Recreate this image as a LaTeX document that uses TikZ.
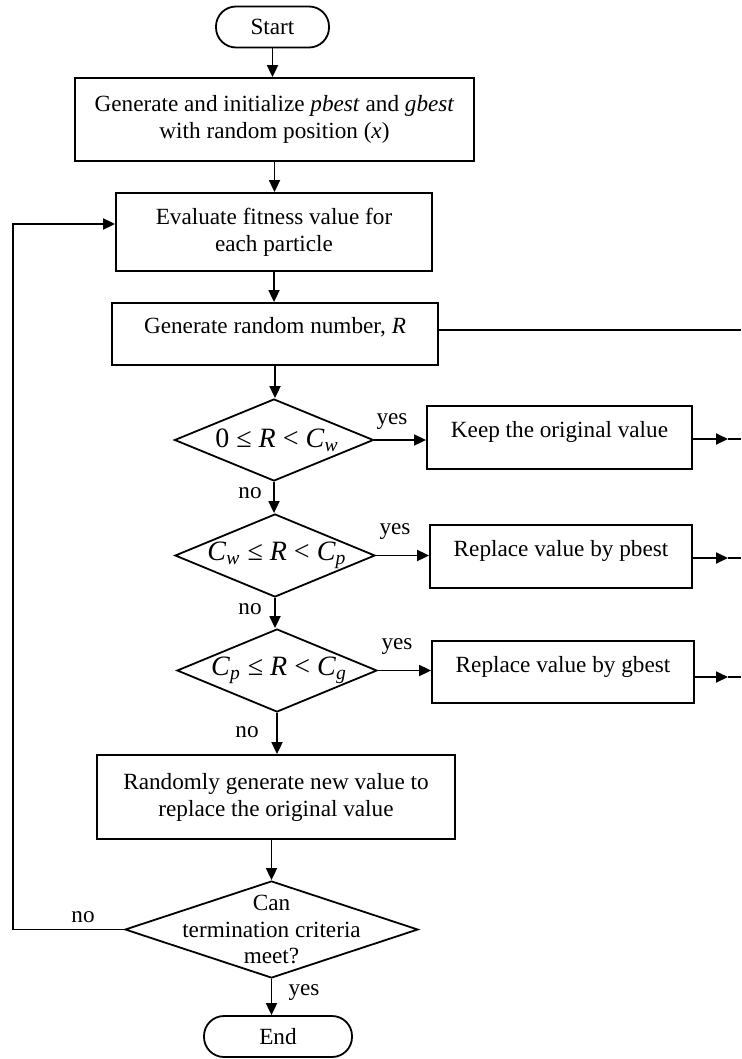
\documentclass[tikz,border=0pt]{standalone}
\usepackage{fontspec}
\setmainfont{Liberation Serif}
\usetikzlibrary{arrows.meta,shapes.geometric}
\begin{document}
\begin{tikzpicture}[x=0.5pt,y=-0.5pt,
  font=\fontsize{11.6}{13.5}\selectfont,
  box/.style={draw, line width=0.9pt, align=center, inner sep=0pt},
  term/.style={draw, line width=0.9pt, rounded corners=10pt, inner sep=0pt},
  dia/.style={draw, diamond, line width=0.9pt, inner sep=0pt},
  arr/.style={line width=0.9pt, -{Triangle[length=6pt,width=5.5pt]}},
  ln/.style={line width=0.9pt},
  lab/.style={inner sep=0pt},
  mth/.style={inner sep=0pt, font=\fontsize{14}{16}\selectfont}]
\useasboundingbox (0,0) rectangle (741,1059);
% nodes
\node[term, minimum width=56.5pt, minimum height=20.5pt] (start) at (272.5,27) {Start};
\node[box, minimum width=199.5pt, minimum height=41.5pt] (b1) at (274.5,119.5) {Generate and initialize \textit{pbest} and \textit{gbest}\\with random position (\textit{x})};
\node[box, minimum width=158pt, minimum height=39pt] (b2) at (274,232) {Evaluate fitness value for\\each particle};
\node[box, minimum width=163pt, minimum height=31pt] (b3) at (275,334) {Generate random number, \textit{R}\rule[-9pt]{0pt}{0pt}};
\node[dia, minimum width=99.5pt, minimum height=41pt] (d1) at (274,440) {};
\node[dia, minimum width=100pt, minimum height=41.5pt] (d2) at (275,555.5) {};
\node[dia, minimum width=100pt, minimum height=41.5pt] (d3) at (277,670.5) {};
\node[mth] (d1t) at (277,440) {0 ≤ \textit{R} < \textit{C}\textsubscript{\textit{w}}};
\node[mth] (d2t) at (277,555.5) {\textit{C}\textsubscript{\textit{w}} ≤ \textit{R} < \textit{C}\textsubscript{\textit{p}}};
\node[mth] (d3t) at (279,670.5) {\textit{C}\textsubscript{\textit{p}} ≤ \textit{R} < \textit{C}\textsubscript{\textit{g}}};
\node[box, minimum width=132.5pt, minimum height=31.5pt] (k) at (559.5,437.5) {Keep the original value\rule[-8pt]{0pt}{0pt}};
\node[box, minimum width=131pt, minimum height=31.5pt] (p) at (561,556.5) {Replace value by pbest\rule[-8pt]{0pt}{0pt}};
\node[box, minimum width=131pt, minimum height=31pt] (g) at (563,672) {Replace value by gbest\rule[-8pt]{0pt}{0pt}};
\node[box, minimum width=179pt, minimum height=42pt] (b4) at (276,797) {Randomly generate new value to\\replace the original value};
\node[dia, minimum width=146.5pt, minimum height=48.5pt] (d4) at (271.5,929.5) {};
\node[align=center, inner sep=0pt, font=\fontsize{11.6}{13.2}\selectfont] (d4t) at (d4) {Can\\termination criteria\\meet?};
\node[term, minimum width=74pt, minimum height=20.5pt] (end) at (278,1036.5) {End};
% labels
\node[lab] (y1) at (392,422) {yes};
\node[lab] (y2) at (395,532) {yes};
\node[lab] (y3) at (397,647) {yes};
\node[lab] (y4) at (304,993) {yes};
\node[lab] (n1) at (250,493) {no};
\node[lab] (n2) at (250,609) {no};
\node[lab] (n3) at (247,732) {no};
\node[lab] (n4) at (83,917) {no};
% coordinates
\coordinate (r3) at (741,330);
\coordinate (ka) at (728,439);
\coordinate (kz) at (741,439);
\coordinate (pa) at (728,558);
\coordinate (pz) at (741,558);
\coordinate (ga) at (728,677);
\coordinate (gz) at (741,677);
\coordinate (lb) at (13,929.5);
\coordinate (lt) at (13,224);
% connectors
\draw[arr] (start.south) -- (start.south |- b1.north);
\draw[arr] (b1.south) -- (b1.south |- b2.north);
\draw[arr] (b2.south) -- (b2.south |- b3.north);
\draw[arr] (b3.south) -- (b3.south |- d1.north);
\draw[arr] (d1.south) -- (d1.south |- d2.north);
\draw[arr] (d2.south) -- (d2.south |- d3.north);
\draw[arr] (d3.south) -- (d3.south |- b4.north);
\draw[arr] (d4.north |- b4.south) -- (d4.north);
\draw[arr] (d4.south) -- (d4.south |- end.north);
\draw[arr] (d1.east) -- (d1.east -| k.west);
\draw[arr] (d2.east) -- (d2.east -| p.west);
\draw[arr] (d3.east) -- (d3.east -| g.west);
\draw[ln] (b3.east |- r3) -- (r3);
\draw[arr] (k.east |- ka) -- (ka);
\draw[ln] (ka) -- (kz);
\draw[arr] (p.east |- pa) -- (pa);
\draw[ln] (pa) -- (pz);
\draw[arr] (g.east |- ga) -- (ga);
\draw[ln] (ga) -- (gz);
\draw[arr] (d4.west) -- (lb) -- (lt) -- (lt -| b2.west);
\end{tikzpicture}
\end{document}
